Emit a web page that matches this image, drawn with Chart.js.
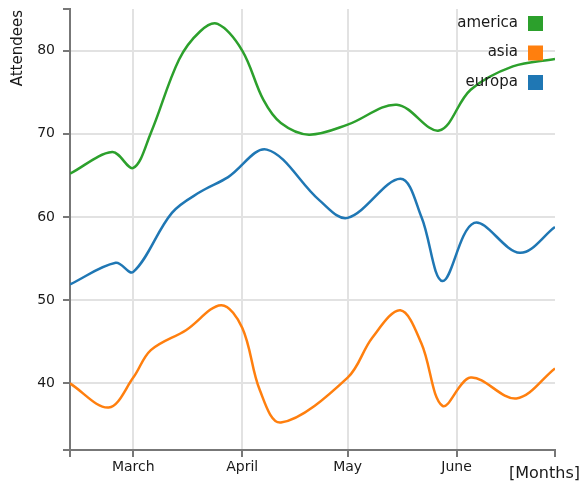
<!DOCTYPE html>
<html>
<head>
<meta charset="utf-8">
<script src="https://cdn.jsdelivr.net/npm/chart.js@4"></script>
<style>
  html, body { margin: 0; padding: 0; background: #fff; }
  #wrap { width: 586px; height: 485px; }
</style>
</head>
<body>
<div id="wrap"><canvas id="attendeesChart" width="586" height="485"></canvas></div>
<script>
// x values are day of year (Mar 1 = 60, Apr 1 = 91, May 1 = 121, Jun 1 = 152)
const seriesNames = ['america', 'asia', 'europa'];
const seriesColors = ['#2ca02c', '#ff7f0e', '#1f77b4'];

const americaDays = [42, 54, 60, 65, 73, 79, 84, 91, 97, 102, 110, 121, 135, 147, 156, 168, 180];
const americaValues = [65.2, 67.8, 65.9, 70.1, 78.9, 82.3, 83.2, 80.0, 74.1, 71.3, 69.9, 71.1, 73.5, 70.4, 75.3, 78.1, 79.0];

const asiaDays = [42, 53, 60, 65, 75, 85, 91, 96, 102, 121, 128, 136, 142, 148, 156, 169, 180];
const asiaValues = [40.0, 37.1, 40.7, 44.0, 46.4, 49.4, 46.7, 39.2, 35.3, 40.7, 45.5, 48.8, 44.8, 37.3, 40.7, 38.2, 41.8];

const europaDays = [42, 55, 60, 71, 79, 87, 98, 113, 121, 136, 142, 148, 157, 170, 180];
const europaValues = [51.9, 54.5, 53.4, 60.5, 63.0, 64.8, 68.1, 62.0, 59.9, 64.6, 60.0, 52.3, 59.3, 55.7, 58.8];

// axis ticks: month starts, plus the domain ends
const monthDays = [60, 91, 121, 152];
const monthLabels = ['March', 'April', 'May', 'June'];
const xMin = 42, xMax = 180;
const yTicks = [40, 50, 60, 70, 80];
const yMin = 32, yMax = 85;

function toPoints(days, values) {
  return days.map((d, i) => ({ x: d, y: values[i] }));
}

const allDays = [americaDays, asiaDays, europaDays];
const allValues = [americaValues, asiaValues, europaValues];

const FONT = "'DejaVu Sans', sans-serif";
const TEXT = '#1a1a1a';

// legend (text then box, right aligned) and the two axis captions
const extrasPlugin = {
  id: 'extras',
  afterDraw(chart) {
    const ctx = chart.ctx;
    ctx.save();
    ctx.font = '15px ' + FONT;
    ctx.textAlign = 'right';
    ctx.textBaseline = 'middle';
    seriesNames.forEach((name, i) => {
      const cy = 23 + i * 29.5;
      ctx.fillStyle = TEXT;
      ctx.fillText(name, 518, cy);
      ctx.fillStyle = seriesColors[i];
      ctx.fillRect(528, cy - 7, 15, 15);
    });
    // y caption
    ctx.save();
    ctx.translate(18, 10);
    ctx.rotate(-Math.PI / 2);
    ctx.textAlign = 'right';
    ctx.fillStyle = TEXT;
    ctx.font = '15px ' + FONT;
    ctx.fillText('Attendees', 0, 0);
    ctx.restore();
    // x caption
    ctx.textAlign = 'left';
    ctx.fillStyle = TEXT;
    ctx.font = '16px ' + FONT;
    ctx.fillText('[Months]', 509, 474);
    ctx.restore();
  }
};

const ctx = document.getElementById('attendeesChart').getContext('2d');
new Chart(ctx, {
  type: 'line',
  data: {
    datasets: seriesNames.map((name, i) => ({
      label: name,
      data: toPoints(allDays[i], allValues[i]),
      borderColor: seriesColors[i],
      backgroundColor: seriesColors[i],
      borderWidth: 2.5,
      pointRadius: 0,
      fill: false,
      tension: 0.35
    }))
  },
  options: {
    responsive: false,
    animation: false,
    layout: { padding: { top: 9, right: 31, left: 0, bottom: 0 } },
    plugins: {
      legend: { display: false },
      tooltip: { enabled: false }
    },
    scales: {
      x: {
        type: 'linear',
        min: xMin,
        max: xMax,
        afterBuildTicks: (scale) => {
          scale.ticks = [xMin].concat(monthDays, [xMax]).map(v => ({ value: v }));
        },
        afterFit: (scale) => {
          scale.height = 35;
          scale.paddingLeft = 0;
          scale.paddingRight = 0;
        },
        ticks: {
          autoSkip: false,
          maxRotation: 0,
          padding: 2,
          color: TEXT,
          font: { family: FONT, size: 14 },
          callback: (value) => {
            const idx = monthDays.indexOf(value);
            return idx >= 0 ? monthLabels[idx] : '';
          }
        },
        grid: {
          color: (c) => (c.tick && monthDays.includes(c.tick.value)) ? '#e2e2e2' : 'rgba(0,0,0,0)',
          lineWidth: 2,
          tickColor: '#777',
          tickLength: 7,
          tickWidth: 2
        },
        border: { color: '#777', width: 2 }
      },
      y: {
        min: yMin,
        max: yMax,
        afterBuildTicks: (scale) => {
          scale.ticks = [yMin].concat(yTicks, [yMax]).map(v => ({ value: v }));
        },
        afterFit: (scale) => {
          scale.width = 70;
          scale.paddingTop = 0;
          scale.paddingBottom = 0;
        },
        ticks: {
          autoSkip: false,
          padding: 8,
          color: TEXT,
          font: { family: FONT, size: 14 },
          callback: (value) => yTicks.includes(value) ? String(value) : ''
        },
        grid: {
          color: (c) => (c.tick && yTicks.includes(c.tick.value)) ? '#e2e2e2' : 'rgba(0,0,0,0)',
          lineWidth: 2,
          tickColor: '#777',
          tickLength: 7,
          tickWidth: 2
        },
        border: { color: '#777', width: 2 }
      }
    }
  },
  plugins: [extrasPlugin]
});
</script>
</body>
</html>
